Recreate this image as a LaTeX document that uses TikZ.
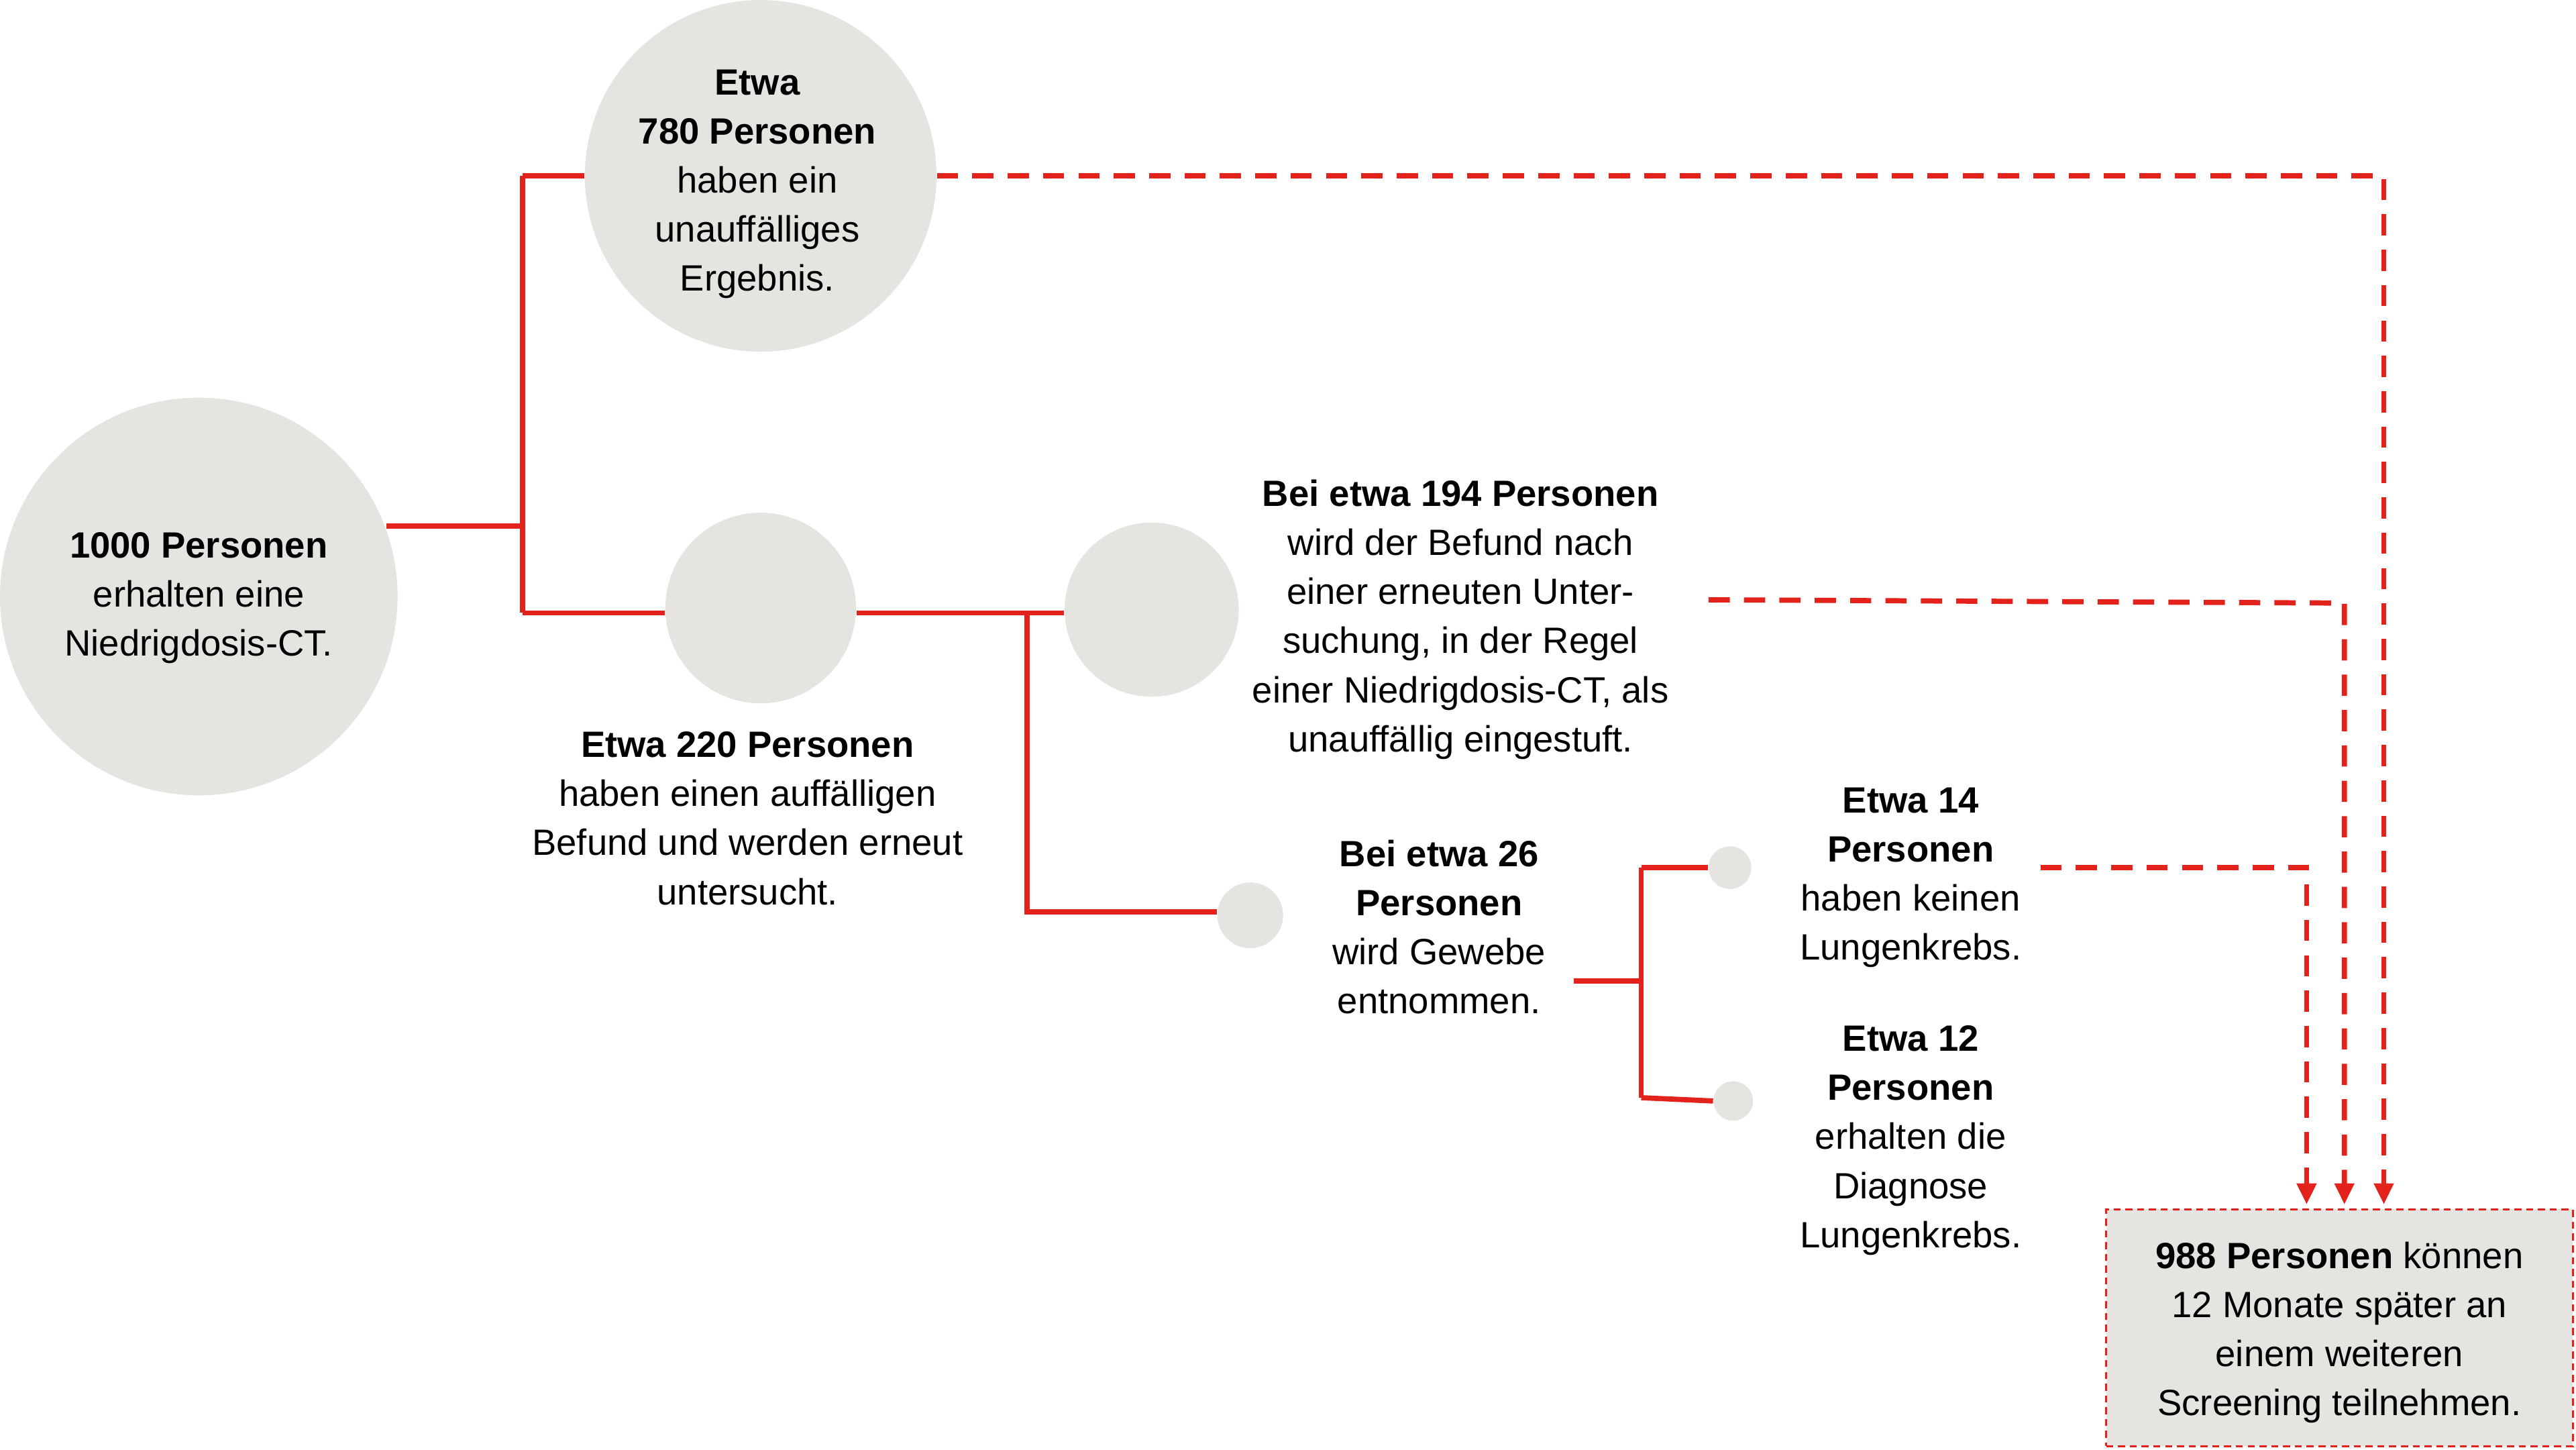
\documentclass[tikz,border=0pt]{standalone}
\usepackage{fontspec}
\setmainfont{Liberation Sans}
\usetikzlibrary{arrows.meta}
\definecolor{cg}{HTML}{E6E4E1}
\definecolor{rd}{HTML}{E3231B}
\begin{document}
\begin{tikzpicture}[x=0.02449cm,y=-0.02449cm,
  circ/.style={circle,fill=cg,inner sep=0pt,minimum size=#1*0.02449cm},
  txt/.style={align=center,font=\fontsize{15.5pt}{20.8pt}\selectfont,inner sep=0pt},
  ln/.style={rd,line width=2.2pt},
  dl/.style={rd,line width=2.2pt,dash pattern=on 9pt off 6pt},
  ar/.style={dl,-{Triangle[length=9pt,width=8pt]}}]
\useasboundingbox (0,0) rectangle (1568,882);
\node[circ=242] (c1000) at (121,363) {};
\node[circ=214] (c780) at (463,107) {};
\node[circ=116] (c220) at (463,370) {};
\node[circ=106] (c194) at (701,371) {};
\node[circ=40] (c26) at (761,557) {};
\node[circ=26] (c14) at (1053,528) {};
\node[circ=24] (c12) at (1055,670) {};
\node[draw=rd,dash pattern=on 3pt off 2pt,line width=0.8pt,fill=cg,minimum width=6.955cm,minimum height=3.527cm,inner sep=0pt] (box) at (1424,808) {};
\node[txt] (t1000) at (121,364) {\textbf{1000 Personen}\\erhalten eine\\Niedrigdosis-CT.};
\node[txt] (t780) at (461,112) {\textbf{Etwa}\\\textbf{780 Personen}\\haben ein\\unauffälliges\\Ergebnis.};
\node[txt] (t220) at (455,498) {\textbf{Etwa 220 Personen}\\haben einen auffälligen\\Befund und werden erneut\\untersucht.};
\node[txt] (t194) at (889,377) {\textbf{Bei etwa 194 Personen}\\wird der Befund nach\\einer erneuten Unter-\\suchung, in der Regel\\einer Niedrigdosis-CT, als\\unauffällig eingestuft.};
\node[txt] (t26) at (876,564) {\textbf{Bei etwa 26}\\\textbf{Personen}\\wird Gewebe\\entnommen.};
\node[txt] (t14) at (1163,534) {\textbf{Etwa 14}\\\textbf{Personen}\\haben keinen\\Lungenkrebs.};
\node[txt] (t12) at (1163,694) {\textbf{Etwa 12}\\\textbf{Personen}\\erhalten die\\Diagnose\\Lungenkrebs.};
\node[txt] (tbox) at (1424,811) {\textbf{988 Personen} können\\12 Monate später an\\einem weiteren\\Screening teilnehmen.};
\coordinate (j1) at (318,320);
\draw[ln] (235,320) -- (j1);
\draw[ln] (318,107) -- (318,373);
\draw[ln] (318,107) -- (c780.west);
\draw[ln] (318,373) -- (c220.west|-0,373);
\draw[ln] (c220.east|-0,373) -- (c194.west|-0,373);
\draw[ln] (625,373) -- (625,555) -- (c26.west|-0,555);
\draw[ln] (958,597) -- (999,597);
\draw[ln] (999,528) -- (999,668);
\draw[ln] (999,528) -- (c14.west);
\draw[ln] (999,668) -- (c12.west);
\draw[ar] (c780.east) -- (1451,107) -- (1451,733);
\draw[ar] (1040,365) -- (1427,367) -- (1427,733);
\draw[ar] (1242,528) -- (1404,528) -- (1404,733);
\end{tikzpicture}
\end{document}
